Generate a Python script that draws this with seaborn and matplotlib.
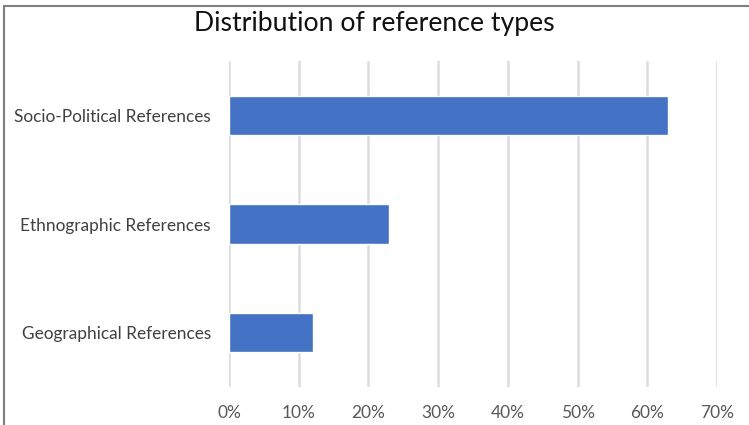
import matplotlib
matplotlib.use("Agg")
import matplotlib.pyplot as plt
import pandas as pd
import seaborn as sns
from matplotlib.lines import Line2D
from matplotlib.ticker import PercentFormatter

# Data
categories = ["Socio-Political References", "Ethnographic References", "Geographical References"]
shares = [0.63, 0.23, 0.12]
x_ticks = [0.0, 0.1, 0.2, 0.3, 0.4, 0.5, 0.6, 0.7]

sns.set_theme(style="white")
plt.rcParams["font.family"] = ["Lato", "DejaVu Sans"]

df = pd.DataFrame({"category": categories, "share": shares})

fig = plt.figure(figsize=(7.49, 4.25), dpi=100)
ax = fig.add_axes([0.3057, 0.0894, 0.6515, 0.767])

sns.barplot(data=df, x="share", y="category", orient="h", color="#4472C4",
            width=0.36, saturation=1, ax=ax, zorder=3)

ax.set_xlim(0, 0.7)
ax.set_xticks(x_ticks)
ax.xaxis.set_major_formatter(PercentFormatter(1.0, decimals=0))
ax.grid(axis="x", color="#dcdcdc", linewidth=1.8, zorder=0)
ax.set_axisbelow(True)
for s in ax.spines.values():
    s.set_visible(False)
ax.set_xlabel("")
ax.set_ylabel("")
ax.tick_params(axis="x", length=0, pad=13, labelsize=12.5, labelcolor="#595959")
ax.tick_params(axis="y", length=0, pad=13, labelsize=12.4, labelcolor="#404040")

fig.text(0.5, 0.945, "Distribution of reference types", ha="center", va="center",
         fontsize=19.2, color="#111111")

# outer chart frame (top and left edges visible in reference)
fig.add_artist(Line2D([0.005, 1.0], [0.987, 0.987], transform=fig.transFigure,
                      color="#7f7f7f", linewidth=1.5))
fig.add_artist(Line2D([0.0055, 0.0055], [0.0, 0.987], transform=fig.transFigure,
                      color="#7f7f7f", linewidth=1.5))

fig.savefig("out.png", dpi=100, facecolor="white")
